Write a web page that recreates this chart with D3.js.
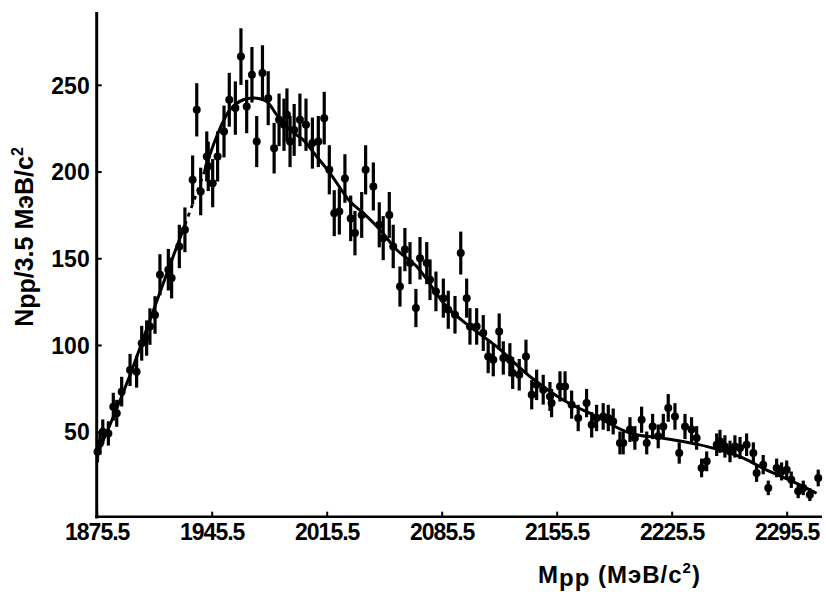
<!DOCTYPE html>
<html>
<head>
<meta charset="utf-8">
<script src="https://cdn.jsdelivr.net/npm/d3@7"></script>
<style>
  html, body { margin: 0; padding: 0; background: #fff; }
  svg { display: block; }
  text { font-family: "Liberation Sans", Arial, "DejaVu Sans", sans-serif; font-weight: bold; fill: #000; }
</style>
</head>
<body>
<svg id="chart" width="826" height="594"></svg>
<script>
// ---- data ----
const mass = [
  1876.0, 1877.5, 1879.2, 1882.6, 1885.6, 1887.7, 1890.7, 1895.8, 1899.8, 1902.9,
  1905.9, 1907.9, 1911.0, 1914.0, 1919.1, 1921.1, 1925.8, 1929.2, 1933.9, 1936.4,
  1938.8, 1942.5, 1943.4, 1946.1, 1949.1, 1953.0, 1956.2, 1959.9, 1963.3, 1966.8,
  1970.0, 1972.9, 1976.4, 1979.9, 1983.5, 1986.5, 1989.5, 1991.3, 1993.2, 1995.7,
  1999.2, 2002.9, 2006.8, 2010.4, 2014.0, 2017.1, 2020.1, 2023.2, 2026.6, 2030.1,
  2032.7, 2036.8, 2039.2, 2043.9, 2047.5, 2049.9, 2053.6, 2056.0, 2060.1, 2063.1,
  2066.2, 2069.8, 2072.3, 2076.4, 2078.4, 2082.0, 2086.5, 2089.5, 2093.6, 2097.1,
  2100.7, 2102.7, 2106.8, 2110.8, 2113.8, 2116.9, 2120.5, 2123.0, 2127.0, 2128.7,
  2132.7, 2136.8, 2140.3, 2143.3, 2147.3, 2151.4, 2152.4, 2157.5, 2160.6, 2164.6,
  2168.6, 2173.7, 2176.8, 2179.8, 2183.8, 2186.9, 2189.9, 2194.0, 2196.0, 2200.1,
  2203.1, 2207.2, 2210.3, 2213.9, 2217.3, 2220.4, 2223.4, 2227.5, 2230.1, 2233.6,
  2237.6, 2240.7, 2243.7, 2246.8, 2252.9, 2254.9, 2257.9, 2261.0, 2264.0, 2267.1,
  2271.1, 2275.2, 2277.2, 2281.2, 2284.3, 2289.4, 2292.4, 2295.5, 2298.3, 2302.5,
  2305.6, 2309.6, 2314.7
];
const counts = [
  38.5, 43.3, 50.0, 49.0, 64.4, 60.6, 73.1, 85.6, 84.6, 101.0,
  104.0, 110.6, 117.3, 140.5, 143.4, 138.6, 156.8, 166.4, 195.3, 235.6,
  188.5, 208.7, 203.0, 193.3, 208.7, 223.1, 241.4, 236.6, 266.3, 237.5,
  255.8, 217.3, 256.8, 242.3, 213.5, 229.8, 227.0, 232.7, 217.3, 224.0,
  229.8, 227.0, 216.4, 217.3, 230.8, 201.0, 176.0, 177.0, 196.0, 173.0,
  164.5, 175.0, 201.0, 191.4, 169.3, 161.6, 175.0, 156.8, 133.7, 155.0,
  147.2, 121.3, 150.0, 147.2, 137.6, 130.9, 127.0, 120.3, 117.4, 153.0,
  127.0, 110.7, 110.7, 106.9, 93.4, 91.5, 107.8, 92.5, 91.5, 83.8,
  82.8, 93.4, 71.3, 77.0, 74.2, 70.3, 66.5, 76.1, 76.1, 65.6,
  57.9, 66.5, 54.0, 57.9, 58.8, 57.9, 55.9, 43.5, 43.5, 51.2,
  46.4, 56.9, 43.5, 53.0, 47.3, 53.0, 63.7, 58.8, 37.7, 53.0,
  51.2, 46.4, 29.1, 32.9, 42.5, 44.4, 41.5, 38.6, 41.5, 40.6,
  42.5, 37.7, 26.2, 31.0, 17.6, 29.1, 27.1, 28.1, 22.3, 15.6,
  17.6, 13.7, 23.3
];
// hand-drawn fit curve through the data
const fitMass = [
  1875.5, 1883.6, 1895.8, 1907.9, 1920.1, 1929.2, 1935.3, 1941.0, 1948.5, 1956.6,
  1964.7, 1972.9, 1979.0, 1985.1, 1993.2, 2001.2, 2009.4, 2017.6, 2029.7, 2037.8,
  2048.0, 2058.1, 2070.3, 2088.5, 2102.7, 2119.0, 2139.4, 2159.5, 2179.8, 2200.4,
  2220.4, 2240.7, 2247.2, 2267.1, 2281.2, 2301.6, 2313.7
];
const fitCount = [
  36.6, 54.0, 82.7, 114.4, 146.1, 169.2, 184.8, 199.8, 220.2, 235.6,
  241.4, 242.3, 240.4, 232.7, 224.0, 218.3, 208.7, 199.0, 182.7, 176.0,
  166.4, 154.9, 145.2, 122.1, 110.6, 99.0, 81.7, 68.3, 58.7, 49.1,
  46.2, 42.8, 41.4, 35.6, 28.9, 20.2, 14.5
];
const dashedFrom = 1929.2, dashedTo = 1941.0;   // dashed stretch of the curve
const xTicks = [1875.5, 1945.5, 2015.5, 2085.5, 2155.5, 2225.5, 2295.5];
const yTicks = [50, 100, 150, 200, 250];

// ---- chart ----
const svg = d3.select("#chart");
const x = d3.scaleLinear().domain([1875.5, 2317]).range([96.7, 822]);
const y = d3.scaleLinear().domain([0, 292]).range([518.4, 12]);

const pts = mass.map((m, i) => ({ m, c: counts[i], e: Math.sqrt(counts[i]) })); // Poisson errors
const fit = fitMass.map((m, i) => ({ m, c: fitCount[i] }));

// axes
const yAxis = d3.axisLeft(y).tickValues(yTicks).tickSize(-5).tickPadding(7).tickFormat(d3.format("d"));
const gy = svg.append("g").attr("transform", `translate(${x(1875.5)},0)`).call(yAxis);
gy.select(".domain").remove();
gy.selectAll(".tick line").attr("stroke", "#000").attr("stroke-width", 2);
gy.selectAll(".tick text").style("font-size", "23px").attr("dy", "0.36em");

const xAxis = d3.axisBottom(x).tickValues(xTicks).tickSize(-5).tickPadding(7).tickFormat(d => d.toFixed(1));
const gx = svg.append("g").attr("transform", `translate(0,${y(1)})`).call(xAxis);
gx.select(".domain").remove();
gx.selectAll(".tick line").attr("stroke", "#000").attr("stroke-width", 2);
gx.selectAll(".tick text").style("font-size", "23px").style("letter-spacing", "-1px");

// axis lines
svg.append("line").attr("x1", x(1875.5)).attr("x2", x(1875.5)).attr("y1", y(292)).attr("y2", y(0))
  .attr("stroke", "#000").attr("stroke-width", 3);
svg.append("line").attr("x1", x(1875.5) - 1.5).attr("x2", x(2317)).attr("y1", y(1)).attr("y2", y(1))
  .attr("stroke", "#000").attr("stroke-width", 2.5);

// fit curve
const line = d3.line().x(d => x(d.m)).y(d => y(d.c)).curve(d3.curveCatmullRom);
svg.append("path").datum(fit.filter(d => d.m <= dashedFrom)).attr("d", line)
  .attr("fill", "none").attr("stroke", "#000").attr("stroke-width", 3);
svg.append("path").datum(fit.filter(d => d.m >= dashedFrom && d.m <= dashedTo)).attr("d", line)
  .attr("fill", "none").attr("stroke", "#000").attr("stroke-width", 2.8).attr("stroke-dasharray", "4,5");
svg.append("path").datum(fit.filter(d => d.m >= dashedTo)).attr("d", line)
  .attr("fill", "none").attr("stroke", "#000").attr("stroke-width", 3);

// error bars and points
svg.append("g").selectAll("line").data(pts).join("line")
  .attr("x1", d => x(d.m)).attr("x2", d => x(d.m))
  .attr("y1", d => y(d.c + d.e)).attr("y2", d => y(d.c - d.e))
  .attr("stroke", "#000").attr("stroke-width", 3.2);
svg.append("g").selectAll("circle").data(pts).join("circle")
  .attr("cx", d => x(d.m)).attr("cy", d => y(d.c)).attr("r", 4).attr("fill", "#000");

// axis titles
const yl = svg.append("text").attr("transform", "translate(33,237) rotate(-90)")
  .attr("text-anchor", "middle").style("font-size", "25px");
yl.append("tspan").text("N");
yl.append("tspan").text("pp").attr("dy", 2);
yl.append("tspan").text("/3.5 MэB/c").attr("dy", -2);
yl.append("tspan").text("2").style("font-size", "16px").attr("dy", -10);

const xl = svg.append("text").attr("x", 538).attr("y", 583).style("font-size", "24px").style("letter-spacing", "1px");
xl.append("tspan").text("M");
xl.append("tspan").text("pp").attr("dy", 3);
xl.append("tspan").text(" (MэB/c").attr("dy", -3);
xl.append("tspan").text("2").style("font-size", "15px").attr("dy", -10);
xl.append("tspan").text(")").attr("dy", 10);
</script>
</body>
</html>
